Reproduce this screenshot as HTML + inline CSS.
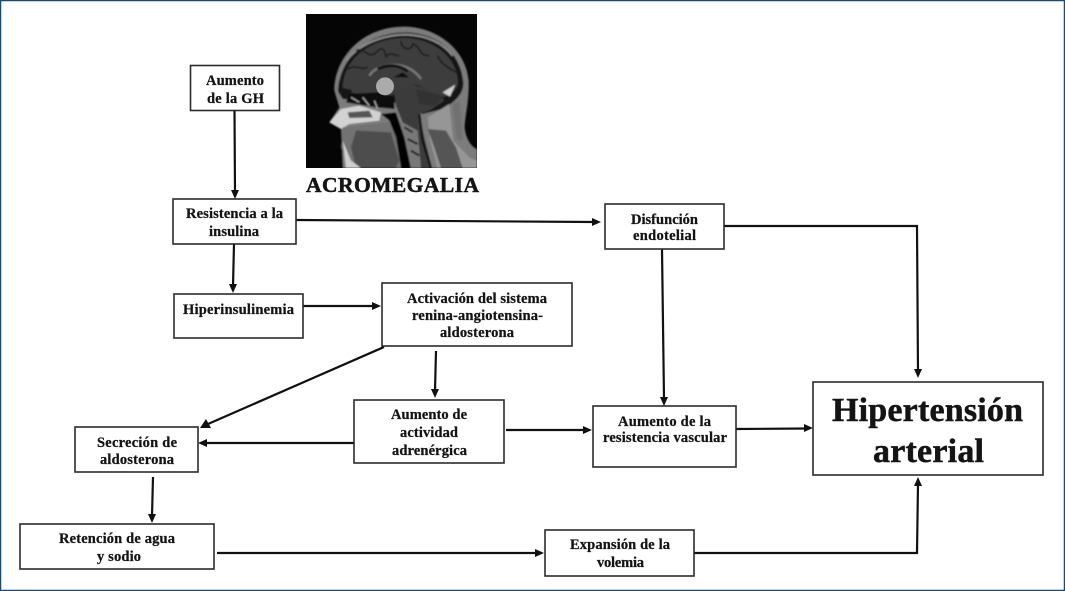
<!DOCTYPE html>
<html lang="es"><head><meta charset="utf-8"><title>Acromegalia e hipertensión arterial</title>
<style>
html,body{margin:0;padding:0;background:#fff}
svg{display:block}
text{font-family:"Liberation Serif",serif;font-weight:bold;fill:#141414;font-size:14.5px;stroke:#141414;stroke-width:.25}
.b{fill:#fff;stroke:#2b2b2b;stroke-width:1.6}
.l{fill:none;stroke:#111;stroke-width:2.2}
.h{fill:#111}
</style></head><body>
<svg width="1065" height="591" viewBox="0 0 1065 591" xmlns="http://www.w3.org/2000/svg">
<defs>
<filter id="s" x="-5%" y="-5%" width="110%" height="110%"><feGaussianBlur stdDeviation="2.2"/></filter>
<clipPath id="c"><rect x="0" y="0" width="513" height="462"/></clipPath>
</defs>
<rect x="0.500" y="0.500" width="1064" height="590" fill="#fff" stroke="#1c4a6e" stroke-width="1.5"/>

<!-- MRI -->
<rect x="306" y="14" width="171" height="154" fill="#050505"/>
<g transform="translate(306,14) scale(0.3333)" clip-path="url(#c)"><g filter="url(#s)">
<path d="M85 230C85 130 170 35 300 38C400 42 480 110 488 200C490 260 478 300 476 340C480 380 500 400 513 405V462H110L105 345L70 325L100 280Z" fill="#7c7c7c"/>
<path d="M96 232C100 135 180 55 300 55C400 58 465 120 472 205C474 240 445 265 410 285L350 300L265 265L110 255Z" fill="#161616"/>
<path d="M120 140C160 90 230 62 300 62C360 64 410 85 440 125" fill="none" stroke="#8c8c8c" stroke-width="6"/>
<path d="M110 222C112 140 185 74 295 72C385 74 450 130 456 200C456 225 440 240 410 250L340 215L265 190L200 190L150 230Z" fill="#3e3e3e"/>
<path d="M135 235L150 200L200 165L260 150L320 170L340 200L280 240L200 250Z" fill="#3c3c3c"/>
<path d="M150 110C175 100 180 130 205 120C225 100 235 95 240 130M285 80C285 110 320 110 320 90C345 95 335 125 370 125M395 125C405 150 425 160 450 175M125 165C150 150 165 170 185 160M240 130C250 110 265 125 280 125" fill="none" stroke="#1a1a1a" stroke-width="5"/>
<path d="M190 185C215 145 305 135 345 195" fill="none" stroke="#787878" stroke-width="7"/>
<path d="M215 165C245 150 280 152 305 172" fill="none" stroke="#0a0a0a" stroke-width="9"/>
<path d="M262 190L310 190L290 175Z" fill="#0a0a0a"/>
<path d="M130 240L215 235L265 250L265 285L210 280L120 265Z" fill="#0a0a0a"/>
<path d="M265 235L320 210L400 240L415 260L370 290L340 300L355 370L378 462H320L300 350L270 275Z" fill="#3a3a3a"/>
<path d="M330 225L410 245L390 275L340 270Z" fill="#333"/>
<path d="M410 235L448 212L432 248Z" fill="#cfcfcf"/>
<path d="M365 310L430 270L442 380L490 430L513 440V462H395L372 380Z" fill="#969696"/>
<path d="M365 345L420 350L450 400L470 462H405L385 400Z" fill="#555"/>
<path d="M440 270L462 260L470 380L452 375Z" fill="#717171"/>
<path d="M340 300L350 380L375 462" fill="none" stroke="#0c0c0c" stroke-width="7"/>
<path d="M70 325L105 285L160 275L225 295L220 320L130 330L105 345Z" fill="#d2d2d2"/>
<path d="M125 295L190 290L200 310L130 312Z" fill="#555"/>
<path d="M135 250L160 265M170 250L190 275M205 260L215 285" stroke="#aaa" stroke-width="4"/>
<path d="M110 340L250 325L275 375L290 462H125L105 400Z" fill="#727272"/>
<path d="M150 350L255 355L280 440L270 462H150L135 400Z" fill="#4e4e4e"/>
<path d="M110 380L135 440L165 462H120Z" fill="#cfcfcf"/>
<path d="M225 300L270 295L295 370L315 462H285L270 370L250 320Z" fill="#050505"/>
<path d="M280 320L335 350L345 462H315L300 385Z" fill="#787878"/>
<path d="M295 340L320 355M305 375L335 390M315 410L340 425" stroke="#1a1a1a" stroke-width="6"/>
</g>
<circle cx="237" cy="217" r="27" fill="#ababab" style="filter:blur(1px)"/>
</g>
<text x="306" y="192" textLength="173" style="font-size:21.500px;stroke-width:.5">ACROMEGALIA</text>

<!-- connectors -->
<path class="l" d="M234.500 110L235 192"/><path class="h" d="M235 199L231 190H239Z"/>
<path class="l" d="M234 244L233 286"/><path class="h" d="M233 293L229 284H237Z"/>
<path class="l" d="M296 220L594 222"/><path class="h" d="M601 222L592 218V226Z"/>
<path class="l" d="M303 306L374 306"/><path class="h" d="M381 306L372 302V310Z"/>
<path class="l" d="M384 347L208 424"/><path class="h" d="M200 428L206 419L211 428Z"/>
<path class="l" d="M436 351L435 391"/><path class="h" d="M435 398L431 389H439Z"/>
<path class="l" d="M354 443L205 443"/><path class="h" d="M198 443L207 439V447Z"/>
<path class="l" d="M153 477L152 516"/><path class="h" d="M152 523L148 514H156Z"/>
<path class="l" d="M724 226L917 226L918 372"/><path class="h" d="M918 378L914 369H922Z"/>
<path class="l" d="M662 249L664 399"/><path class="h" d="M664 406L660 397H668Z"/>
<path class="l" d="M506 430L586 430"/><path class="h" d="M592 430L583 426V434Z"/>
<path class="l" d="M736 429L806 428.500"/><path class="h" d="M813 428L804 424V432Z"/>
<path class="l" d="M217 553L537 553"/><path class="h" d="M544 553L535 549V557Z"/>
<path class="l" d="M694 553L917 553L918 484"/><path class="h" d="M918 477L914 486H922Z"/>

<!-- boxes -->
<rect class="b" x="190.500" y="65.500" width="89" height="45"/>
<rect class="b" x="173" y="199" width="123" height="45"/>
<rect class="b" x="174" y="294" width="129" height="44"/>
<rect class="b" x="382" y="283" width="190" height="63"/>
<rect class="b" x="354" y="400" width="150" height="63"/>
<rect class="b" x="605" y="204" width="119" height="45"/>
<rect class="b" x="593" y="406" width="143" height="61"/>
<rect class="b" x="75" y="427" width="123" height="45"/>
<rect class="b" x="20" y="524" width="194" height="45"/>
<rect class="b" x="545" y="530" width="149" height="46"/>
<rect class="b" x="813" y="382" width="230" height="93"/>

<!-- labels -->
<text x="206" y="85" textLength="58">Aumento</text>
<text x="207" y="103" textLength="57">de la GH</text>
<text x="186" y="218" textLength="97">Resistencia a la</text>
<text x="209" y="236" textLength="50">insulina</text>
<text x="183" y="314" textLength="111">Hiperinsulinemia</text>
<text x="407" y="303" textLength="140">Activación del sistema</text>
<text x="412" y="320" textLength="131">renina-angiotensina-</text>
<text x="440" y="337" textLength="74">aldosterona</text>
<text x="391" y="419" textLength="76">Aumento de</text>
<text x="400" y="437" textLength="58">actividad</text>
<text x="392" y="455" textLength="75">adrenérgica</text>
<text x="631" y="224" textLength="67">Disfunción</text>
<text x="633" y="240" textLength="63">endotelial</text>
<text x="618" y="426" textLength="93">Aumento de la</text>
<text x="603" y="442" textLength="124">resistencia vascular</text>
<text x="97" y="447" textLength="80">Secreción de</text>
<text x="100" y="464" textLength="74">aldosterona</text>
<text x="59" y="543" textLength="116">Retención de agua</text>
<text x="97" y="561" textLength="44">y sodio</text>
<text x="570" y="549" textLength="100">Expansión de la</text>
<text x="597" y="567" textLength="47">volemia</text>
<text x="832" y="421" textLength="191" style="font-size:34px;stroke-width:.5">Hipertensión</text>
<text x="873" y="462" textLength="111" style="font-size:34px;stroke-width:.5">arterial</text>
</svg>
</body></html>
